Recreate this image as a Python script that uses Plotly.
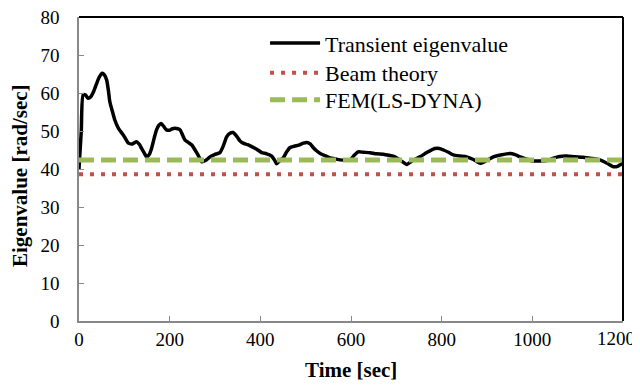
import plotly.graph_objects as go

time_sec = [0, 5, 9, 14, 20, 26, 32, 38, 44, 51, 56, 61, 65, 68, 74, 79, 87, 98, 109, 118, 127, 133, 138, 144, 149, 155, 160, 166, 171, 176, 181, 187, 193, 200, 206, 212, 218, 223, 229, 234, 241, 249, 256, 263, 271, 280, 289, 299, 311, 318, 326, 333, 340, 348, 355, 362, 372, 381, 392, 403, 414, 425, 431, 436, 443, 451, 458, 465, 475, 485, 495, 502, 510, 517, 524, 533, 543, 552, 561, 576, 590, 598, 607, 616, 628, 642, 656, 671, 684, 697, 710, 723, 737, 752, 768, 785, 795, 804, 815, 826, 840, 855, 870, 885, 900, 914, 930, 951, 962, 973, 988, 1002, 1018, 1032, 1045, 1060, 1076, 1094, 1112, 1130, 1149, 1165, 1179, 1188, 1195, 1200]
transient = [40, 50, 59.5, 59.5, 58.6, 59, 60.3, 62.2, 64, 65.2, 64.8, 63.4, 60.5, 57.7, 55, 52.9, 50.7, 48.9, 46.8, 46.6, 47.2, 46.5, 45.4, 44.2, 43.2, 43.8, 45.4, 48.2, 50.3, 51.5, 52, 51.2, 50.3, 50.2, 50.6, 50.7, 50.6, 50.3, 48.8, 47.6, 47, 46.3, 45, 43.6, 41.9, 42.3, 43.2, 43.8, 44.3, 46, 48.5, 49.4, 49.6, 48.6, 47.4, 46.8, 46.4, 45.9, 45.2, 44.3, 44, 43.4, 42.4, 41.4, 42.2, 43, 44.5, 45.6, 46, 46.3, 46.8, 47, 46.6, 45.6, 44.8, 44, 43.5, 43, 42.8, 42.4, 42.3, 42.4, 43.6, 44.5, 44.4, 44.3, 44, 43.9, 43.6, 43.2, 42.2, 41.2, 42.3, 43.2, 44.4, 45.4, 45.4, 45, 44.4, 43.7, 43.4, 43.2, 42.5, 41.5, 42.3, 43.2, 43.7, 44.1, 43.8, 43.2, 42.6, 42.1, 42.1, 42.2, 42.8, 43.3, 43.4, 43.2, 43.1, 42.8, 42.4, 41.5, 40.6, 40.7, 41.2, 41.5]
beam_theory = 38.6
fem_lsdyna = 42.4
x_range = [0, 1200]
y_range = [0, 80]
x_ticks = [0, 200, 400, 600, 800, 1000, 1200]
y_ticks = [0, 10, 20, 30, 40, 50, 60, 70, 80]
x_title = "Time [sec]"
y_title = "Eigenvalue [rad/sec]"

font_family = "Liberation Serif, Times New Roman, serif"

# last x tick label is drawn as an annotation so it is pulled inside the page (as in the reference)
x_ticktext = [str(v) for v in x_ticks[:-1]] + [""]

fig = go.Figure()
fig.add_trace(go.Scatter(x=time_sec, y=transient, mode="lines", name="Transient eigenvalue", legend="legend",
                         line=dict(color="black", width=3.5, shape="spline", smoothing=0.6)))
fig.add_trace(go.Scatter(x=x_range, y=[beam_theory, beam_theory], mode="lines", name="Beam theory", legend="legend2",
                         line=dict(color="#C0504D", width=4, dash="4px,7px")))
fig.add_trace(go.Scatter(x=x_range, y=[fem_lsdyna, fem_lsdyna], mode="lines", name="FEM(LS-DYNA)", legend="legend3",
                         line=dict(color="#9BBB59", width=5, dash="15px,7px")))

leg_common = dict(x=0.342, xanchor="left", yanchor="middle", bgcolor="rgba(0,0,0,0)",
                  font=dict(family=font_family, size=22, color="black"), itemwidth=50)

fig.update_layout(
    width=632, height=377,
    margin=dict(l=71, r=17, t=9, b=64),
    paper_bgcolor="white", plot_bgcolor="white",
    font=dict(family=font_family, size=19, color="black"),
    showlegend=True,
    legend=dict(y=0.914, **leg_common),
    legend2=dict(y=0.816, **leg_common),
    legend3=dict(y=0.727, **leg_common),
    xaxis=dict(range=x_range, tickvals=x_ticks, ticktext=x_ticktext, ticks="inside", ticklen=5, tickcolor="#888",
               showline=True, linecolor="#888", linewidth=1.5, showgrid=False, zeroline=False,
               automargin=False, ticklabeloverflow="allow", tickfont=dict(family=font_family, size=19)),
    yaxis=dict(range=y_range, tickvals=y_ticks, ticks="inside", ticklen=5, tickcolor="#888",
               showline=True, linecolor="#888", linewidth=1.5, showgrid=False, zeroline=False,
               automargin=False, ticklabeloverflow="allow", ticklabelstandoff=14,
               tickfont=dict(family=font_family, size=19)),
    annotations=[
        dict(text=str(x_ticks[-1]), xref="x", yref="paper", x=x_ticks[-1], y=0, xanchor="right",
             yanchor="middle", xshift=14, yshift=-17, showarrow=False, font=dict(family=font_family, size=19)),
        dict(text="<b>" + x_title + "</b>", xref="paper", yref="paper", x=0.5, y=0, xanchor="center",
             yanchor="middle", yshift=-49, showarrow=False, font=dict(family=font_family, size=21)),
        dict(text="<b>" + y_title + "</b>", xref="paper", yref="paper", x=0, y=0.477, xanchor="center",
             yanchor="middle", xshift=-59, textangle=-90, showarrow=False, font=dict(family=font_family, size=21)),
    ],
)
fig.add_shape(type="line", xref="paper", yref="paper", x0=0, x1=1, y0=1, y1=1, line=dict(color="black", width=2))
fig.add_shape(type="line", xref="paper", yref="paper", x0=1, x1=1, y0=0, y1=1, line=dict(color="black", width=2))

fig.write_html("out.html")
